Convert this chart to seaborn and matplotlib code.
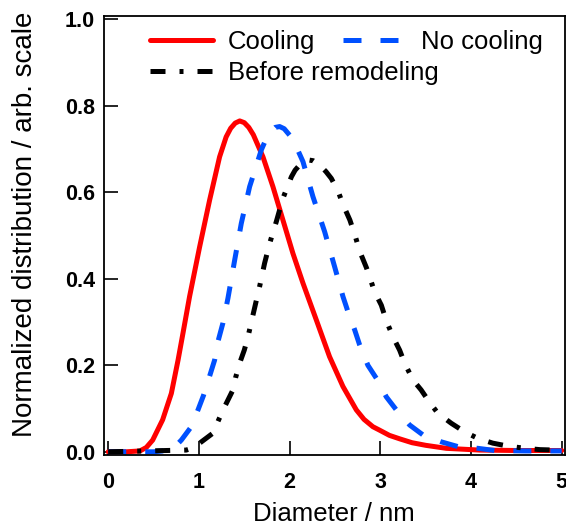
import matplotlib
matplotlib.use("Agg")
import matplotlib.pyplot as plt
import seaborn as sns
import pandas as pd

# ---- data ----
cool_x = [0.0, 0.2, 0.35, 0.42, 0.49, 0.60, 0.696, 0.77, 0.824, 0.897, 1.008, 1.118,
          1.228, 1.30, 1.35, 1.40, 1.45, 1.50, 1.55, 1.60, 1.706, 1.816, 1.926, 2.036,
          2.147, 2.294, 2.44, 2.588, 2.735, 2.82, 2.918, 2.992, 3.10, 3.213, 3.35, 3.5,
          3.728, 4.095, 4.5, 5.0]
cool_y = [0.0, 0.0, 0.002, 0.01, 0.027, 0.074, 0.135, 0.212, 0.274, 0.359, 0.474, 0.582,
          0.682, 0.728, 0.748, 0.760, 0.765, 0.761, 0.750, 0.733, 0.682, 0.613, 0.536,
          0.459, 0.39, 0.305, 0.22, 0.151, 0.097, 0.075, 0.058, 0.050, 0.038, 0.030,
          0.021, 0.015, 0.008, 0.004, 0.003, 0.003]

nocool_x = [0.0, 0.5, 0.7, 0.806, 0.916, 0.99, 1.05, 1.118, 1.173, 1.21, 1.265, 1.32,
            1.394, 1.467, 1.559, 1.688, 1.74, 1.79, 1.84, 1.89, 1.94, 2.0, 2.07, 2.147,
            2.257, 2.386, 2.496, 2.588, 2.643, 2.717, 2.772, 2.863, 2.956, 3.066, 3.176,
            3.323, 3.47, 3.672, 3.856, 4.076, 4.26, 4.6, 5.0]
nocool_y = [0.0, 0.0, 0.004, 0.027, 0.058, 0.097, 0.13, 0.175, 0.212, 0.255, 0.298, 0.355,
            0.443, 0.528, 0.613, 0.698, 0.723, 0.740, 0.750, 0.752, 0.747, 0.732, 0.707,
            0.671, 0.590, 0.509, 0.428, 0.359, 0.324, 0.282, 0.247, 0.200, 0.170, 0.127,
            0.097, 0.062, 0.039, 0.023, 0.012, 0.008, 0.003, 0.002, 0.002]

before_x = [0.0, 0.86, 0.95, 1.008, 1.154, 1.22, 1.283, 1.375, 1.405, 1.449, 1.50, 1.54,
            1.578, 1.633, 1.669, 1.724, 1.78, 1.853, 1.926, 2.02, 2.06, 2.11, 2.155, 2.2,
            2.26, 2.33, 2.40, 2.46, 2.537, 2.59, 2.664, 2.72, 2.774, 2.848, 2.937, 3.011,
            3.066, 3.139, 3.213, 3.268, 3.36, 3.45, 3.544, 3.635, 3.782, 3.93, 4.076, 4.24,
            4.41, 4.6, 4.76, 4.93, 5.0]
before_y = [0.0, 0.004, 0.01, 0.02, 0.043, 0.075, 0.104, 0.143, 0.172, 0.205, 0.235, 0.265,
            0.300, 0.350, 0.382, 0.436, 0.482, 0.532, 0.586, 0.636, 0.651, 0.663, 0.671,
            0.675, 0.673, 0.663, 0.648, 0.632, 0.601, 0.571, 0.536, 0.501, 0.463, 0.425,
            0.370, 0.339, 0.303, 0.266, 0.235, 0.205, 0.166, 0.143, 0.114, 0.089, 0.066,
            0.046, 0.031, 0.020, 0.013, 0.008, 0.005, 0.004, 0.004]

series_names = ["Cooling", "No cooling", "Before remodeling"]
x_ticks = [0, 1, 2, 3, 4, 5]
x_tick_labels = ["0", "1", "2", "3", "4", "5"]
y_ticks = [0.0, 0.2, 0.4, 0.6, 0.8, 1.0]
y_tick_labels = ["0.0", "0.2", "0.4", "0.6", "0.8", "1.0"]

sns.set_theme(style="white")
plt.rcParams["font.family"] = ["Liberation Sans", "DejaVu Sans"]
plt.rcParams["text.color"] = "black"
plt.rcParams["axes.labelcolor"] = "black"
plt.rcParams["xtick.color"] = "black"
plt.rcParams["ytick.color"] = "black"

fig = plt.figure(figsize=(5.66, 5.27), dpi=100)
ax = fig.add_axes([103.5 / 566, (527 - 455) / 527, 461.5 / 566, 439.3 / 527])

lw = 3.6
df_c = pd.DataFrame({"x": cool_x, "y": cool_y})
df_n = pd.DataFrame({"x": nocool_x, "y": nocool_y})
df_b = pd.DataFrame({"x": before_x, "y": before_y})

common = dict(ax=ax, linewidth=lw, legend=False, solid_joinstyle="round",
              dash_joinstyle="round")
sns.lineplot(data=df_c, x="x", y="y", color="#ff0000", label=series_names[0], **common)
sns.lineplot(data=df_n, x="x", y="y", color="#0050ff", linestyle=(0, (3.6, 3.8)),
             label=series_names[1], **common)
sns.lineplot(data=df_b, x="x", y="y", color="#000000",
             linestyle=(0, (3.0, 2.8, 0.8, 2.8)), label=series_names[2], **common)

ax.set_xlim(-0.052, 5.036)
ax.set_ylim(-0.0074, 1.0083)
ax.set_xticks(x_ticks, labels=x_tick_labels, fontweight="bold")
ax.set_yticks(y_ticks, labels=y_tick_labels, fontweight="bold")
ax.tick_params(axis="both", direction="in", length=10, width=1.2, labelsize=15.5,
               colors="black", bottom=True, left=True, top=False, right=False)
ax.tick_params(axis="x", pad=12.5)
ax.tick_params(axis="y", pad=6)
for s in ax.spines.values():
    s.set_linewidth(1.3)
    s.set_color("black")

ax.set_xlabel("Diameter / nm", fontsize=18.5)
ax.xaxis.set_label_coords(0.5, -0.107)
ax.set_ylabel("Normalized distribution / arb. scale", fontsize=20)
ax.yaxis.set_label_coords(-0.1424, 0.526)

lines = ax.get_lines()
leg1 = ax.legend(handles=[lines[0], lines[1]], ncol=2, loc="upper left",
                 bbox_to_anchor=(0.10, 0.968), frameon=False, fontsize=18.5,
                 borderpad=0, borderaxespad=0, handlelength=2.45,
                 handletextpad=0.58, columnspacing=1.09)
ax.add_artist(leg1)
leg2 = ax.legend(handles=[lines[2]], loc="upper left",
                 bbox_to_anchor=(0.10, 0.896), frameon=False, fontsize=18.5,
                 borderpad=0, borderaxespad=0, handlelength=2.45,
                 handletextpad=0.58)

fig.savefig("out.png", dpi=100)
